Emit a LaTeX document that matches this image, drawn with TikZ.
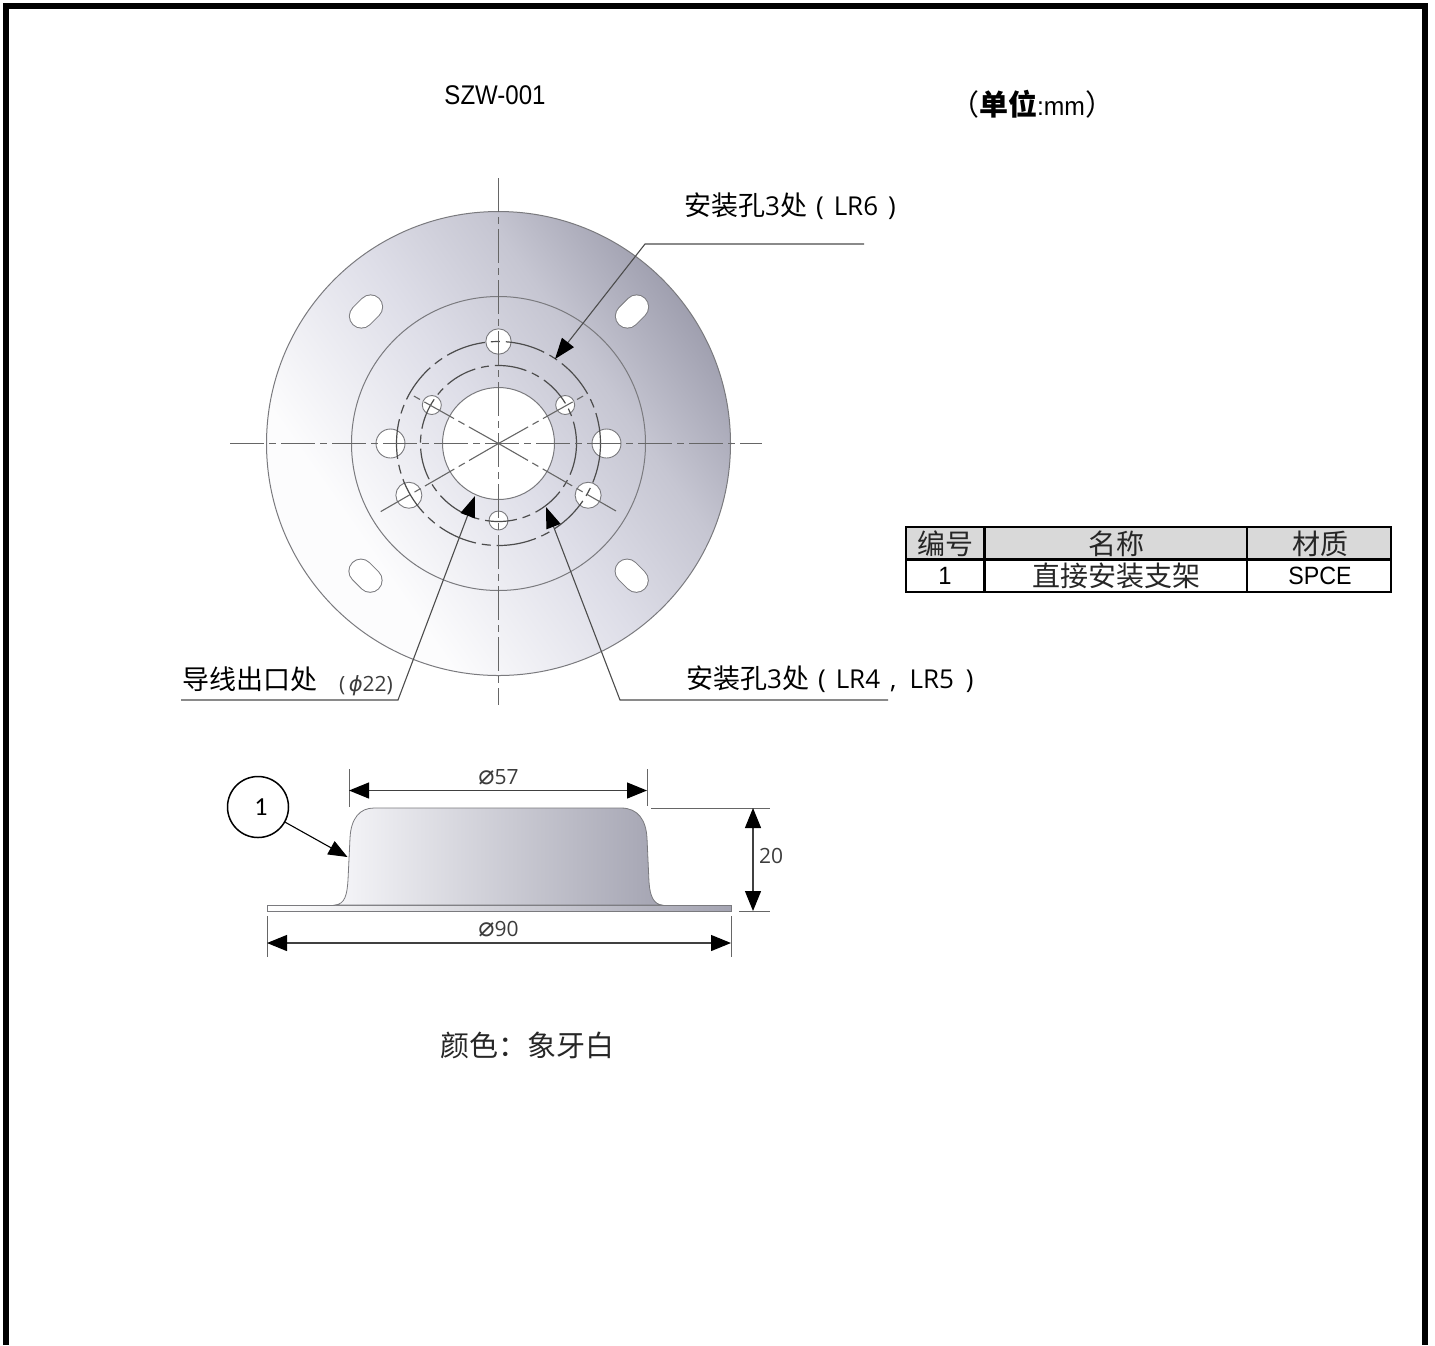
\documentclass[tikz,border=0pt]{standalone}
\usepackage{fontspec}
\usetikzlibrary{arrows.meta,calc}
\setmainfont{Liberation Sans}
\newfontfamily\cjk{Noto Sans CJK SC}
\newfontfamily\opn{Open Sans}
\newfontfamily\dju{DejaVu Sans}
\newfontfamily\carl{Carlito}
\definecolor{dimgrey}{HTML}{3C3C3C}
\definecolor{edgegrey}{HTML}{7A7A7E}
\definecolor{discdark}{HTML}{9C9CAC}
\definecolor{discsemi}{HTML}{C6C6D2}
\definecolor{discmid}{HTML}{DEDEE8}
\definecolor{disclight}{HTML}{FCFCFD}
\definecolor{domeleft}{HTML}{F6F6F9}
\definecolor{domemid}{HTML}{E4E4EC}
\definecolor{domeright}{HTML}{A4A4B2}
\pgfdeclareverticalshading{discshade}{100bp}{color(0bp)=(disclight); color(32bp)=(disclight); color(50bp)=(discmid); color(63bp)=(discsemi); color(76bp)=(discdark); color(100bp)=(discdark)}
\newcommand{\lat}{\opn\fontsize{26}{30}\selectfont}
\tikzset{
 x=1pt,y=-1pt,
 frameline/.style={line width=6pt,black},
 edgeline/.style={edgegrey,line width=1pt},
 centerline/.style={line width=1.1pt,color=black!60,dash pattern=on 34pt off 5pt on 7pt off 5pt},
 pitchA/.style={line width=1.2pt,color=black!70,dash pattern=on 40pt off 6pt on 9pt off 6pt},
 pitchB/.style={line width=1.2pt,color=black!70,dash pattern=on 32pt off 6pt on 8pt off 6pt},
 hole/.style={circle,draw=edgegrey,fill=white,line width=.9pt,inner sep=0pt},
 leader/.style={line width=1.1pt,color=black!70},
 tip/.style={-{Triangle[length=21pt,width=15pt,color=black]}},
 dimline/.style={line width=1.2pt,color=black!75,{Triangle[length=20pt,width=16pt,color=black]}-{Triangle[length=20pt,width=16pt,color=black]}},
 extline/.style={line width=1pt,color=black!60},
 cjklabel/.style={inner sep=0pt,font=\cjk\fontsize{27}{30}\selectfont},
 dimlabel/.style={inner sep=0pt,text=dimgrey,font=\opn\fontsize{21}{24}\selectfont},
 tablecell/.style={draw=black,line width=2.4pt,inner sep=0pt,outer sep=0pt,anchor=north west},
 tablehead/.style={tablecell,fill=black!15},
 cjkt/.style={inner sep=0pt,text=black!85,font=\cjk\fontsize{28}{30}\selectfont},
}
\newcommand{\slotshape}[3]{%
 \draw[edgegrey,line width=25pt,line cap=round] ($(#1,#2)+(#3:6.5pt)$) -- ($(#1,#2)+(#3:-6.5pt)$);
 \draw[white,line width=23pt,line cap=round] ($(#1,#2)+(#3:6.5pt)$) -- ($(#1,#2)+(#3:-6.5pt)$);}
\begin{document}
\begin{tikzpicture}
\useasboundingbox (0,0) rectangle (1435,1345);
% frame
\coordinate (fa) at (6,1345);
\coordinate (fb) at (6,6);
\coordinate (fc) at (1425.3,6);
\coordinate (fd) at (1425.3,1345);
\draw[frameline] (fa) -- (fb) -- (fc) -- (fd);
% titles
\node[inner sep=0pt] (title) at (495,95) {\scalebox{.89}[1]{\fontsize{27}{30}\selectfont SZW-001}};
\node[inner sep=0pt] (unit) at (1032,104) {\fontsize{29}{30}\selectfont\cjk （{\bfseries 单位}{\rmfamily\scalebox{.95}[1]{\fontsize{26}{30}\selectfont :mm}}）};
% disc
\coordinate (c) at (498.5,443.5);
\shade[shading=discshade,shading angle=-55,draw=edgegrey,line width=1pt] (c) circle[radius=232];
\draw[edgeline] (c) circle[radius=147];
\slotshape{632}{311.5}{45}
\slotshape{366}{311.5}{45}
\slotshape{365.5}{575.7}{-45}
\slotshape{631.7}{575.7}{-45}
% central hole
\draw[edgegrey,fill=white,line width=1pt] (c) circle[radius=56];
% holes
\foreach \n/\a/\r/\s in {a/90/102/12.7,b/0/108/14.5,d/180/108/14.5,e/-30/103.5/13,f/210/103.5/13,g/150/77/9.5,h/30/77/9.5,i/270/77/9.5}
  \node[hole,minimum size=2*\s pt] (h\n) at ($(c)+(\a:\r pt and \r pt)$) {};
% pitch circles
\draw[pitchA] (c) circle[radius=102];
\draw[pitchB] (c) circle[radius=78];
% centre lines
\coordinate (vt) at (498.5,178); \coordinate (vb) at (498.5,705);
\coordinate (hl) at (230,443.5); \coordinate (hr) at (762,443.5);
\coordinate (r1a) at (380,512); \coordinate (r1b) at (585,395);
\coordinate (r2a) at (616,511); \coordinate (r2b) at (412,395);
\draw[centerline] (vt) -- (vb);
\draw[centerline] (hl) -- (hr);
\draw[centerline] (c) -- (r1a);
\draw[centerline] (c) -- (r1b);
\draw[centerline] (c) -- (r2a);
\draw[centerline] (c) -- (r2b);
% leaders
\coordinate (l1a) at (864,244); \coordinate (l1b) at (645,244); \coordinate (l1c) at (555,359);
\coordinate (l2a) at (181,700); \coordinate (l2b) at (398,700); \coordinate (l2c) at (475,496);
\coordinate (l3a) at (888,700); \coordinate (l3b) at (620,700); \coordinate (l3c) at (546,507);
\draw[leader,tip] (l1a) -- (l1b) -- (l1c);
\draw[leader,tip] (l2a) -- (l2b) -- (l2c);
\draw[leader,tip] (l3a) -- (l3b) -- (l3c);
\node[cjklabel,anchor=west] (t1) at (684,206) {安装孔{\lat 3}处{\lat\hspace{9pt}(\hspace{10pt}LR6\hspace{10pt})}};
\node[cjklabel,anchor=west] (t2) at (182,679) {导线出口处};
\node[dimlabel] (t3) at (366,686) {(\,{\dju\itshape ϕ}22)};
\node[cjklabel,anchor=west] (t4) at (686,679) {安装孔{\lat 3}处{\lat\hspace{9pt}(\hspace{10pt}LR4\hspace{10pt},\hspace{13pt}LR5\hspace{12pt})}};
% side view
\shade[left color=white,right color=domeright,draw=edgegrey,line width=.8pt]
 (267,905) rectangle (731,911);
\shade[left color=domeleft,middle color=domemid,right color=domeright,draw=edgegrey,line width=.8pt]
 (335,905) .. controls (345,904) and (347,895) .. (348,880)
 -- (350,838) .. controls (351,818) and (360,808) .. (374,808)
 -- (621,808) .. controls (638,808) and (646,820) .. (647,838)
 -- (649,882) .. controls (650,897) and (654,904) .. (662,905) -- cycle;
% dimensions
\coordinate (e1a) at (349,769); \coordinate (e1b) at (349,807);
\coordinate (e2a) at (647,769); \coordinate (e2b) at (647,806);
\coordinate (e3a) at (267,916); \coordinate (e3b) at (267,957);
\coordinate (e4a) at (731,916); \coordinate (e4b) at (731,957);
\coordinate (e5a) at (651,808); \coordinate (e5b) at (770,808);
\coordinate (e6a) at (739,911); \coordinate (e6b) at (770,911);
\foreach \p/\q in {e1a/e1b,e2a/e2b,e3a/e3b,e4a/e4b,e5a/e5b,e6a/e6b}\draw[extline] (\p) -- (\q);
\coordinate (d1a) at (349,790.5); \coordinate (d1b) at (647,790.5);
\coordinate (d2a) at (267,943); \coordinate (d2b) at (731,943);
\coordinate (d3a) at (753,808); \coordinate (d3b) at (753,911);
\draw[dimline] (d1a) -- (d1b);
\draw[dimline] (d2a) -- (d2b);
\draw[dimline] (d3a) -- (d3b);
\node[dimlabel] (n57) at (498.5,777) {{\dju\fontsize{27}{24}\selectfont ⌀}57};
\node[dimlabel] (n90) at (498.5,929) {{\dju\fontsize{27}{24}\selectfont ⌀}90};
\node[dimlabel] (n20) at (771,856) {20};
% balloon
\node[circle,draw=black,line width=1.5pt,minimum size=61pt,inner sep=0pt,fill=white,text=black,font=\carl\fontsize{26}{28}\selectfont] (ball) at (258,807) {\hspace*{6pt}1};
\coordinate (bt) at (347.5,857);
\draw[line width=1.1pt,-{Triangle[length=19pt,width=15pt,color=black]}] (ball) -- (bt);
% table
\node[tablehead,minimum width=78.3pt,minimum height=32.5pt] (ca) at (906,527) {};
\node[tablehead,minimum width=262.7pt,minimum height=32.5pt] (cb) at (984.3,527) {};
\node[tablehead,minimum width=144pt,minimum height=32.5pt] (cc) at (1247,527) {};
\node[tablecell,minimum width=78.3pt,minimum height=32.5pt] (cd) at (906,559.5) {};
\node[tablecell,minimum width=262.7pt,minimum height=32.5pt] (ce) at (984.3,559.5) {};
\node[tablecell,minimum width=144pt,minimum height=32.5pt] (cf) at (1247,559.5) {};
\node[cjkt] (ta) at (945.5,544) {编号};
\node[cjkt] (tb) at (1116,544) {名称};
\node[cjkt] (tc) at (1320,544) {材质};
\node[inner sep=0pt] (td) at (945,576) {\fontsize{25}{28}\selectfont\scalebox{.95}[1]{1}};
\node[cjkt] (te) at (1116,576) {直接安装支架};
\node[inner sep=0pt] (tf) at (1320,576) {\scalebox{.93}[1]{\fontsize{25}{28}\selectfont SPCE}};
\node[inner sep=0pt,text=black!85,font=\cjk\fontsize{29}{32}\selectfont] (col) at (527,1045) {颜色：象牙白};
\end{tikzpicture}
\end{document}
